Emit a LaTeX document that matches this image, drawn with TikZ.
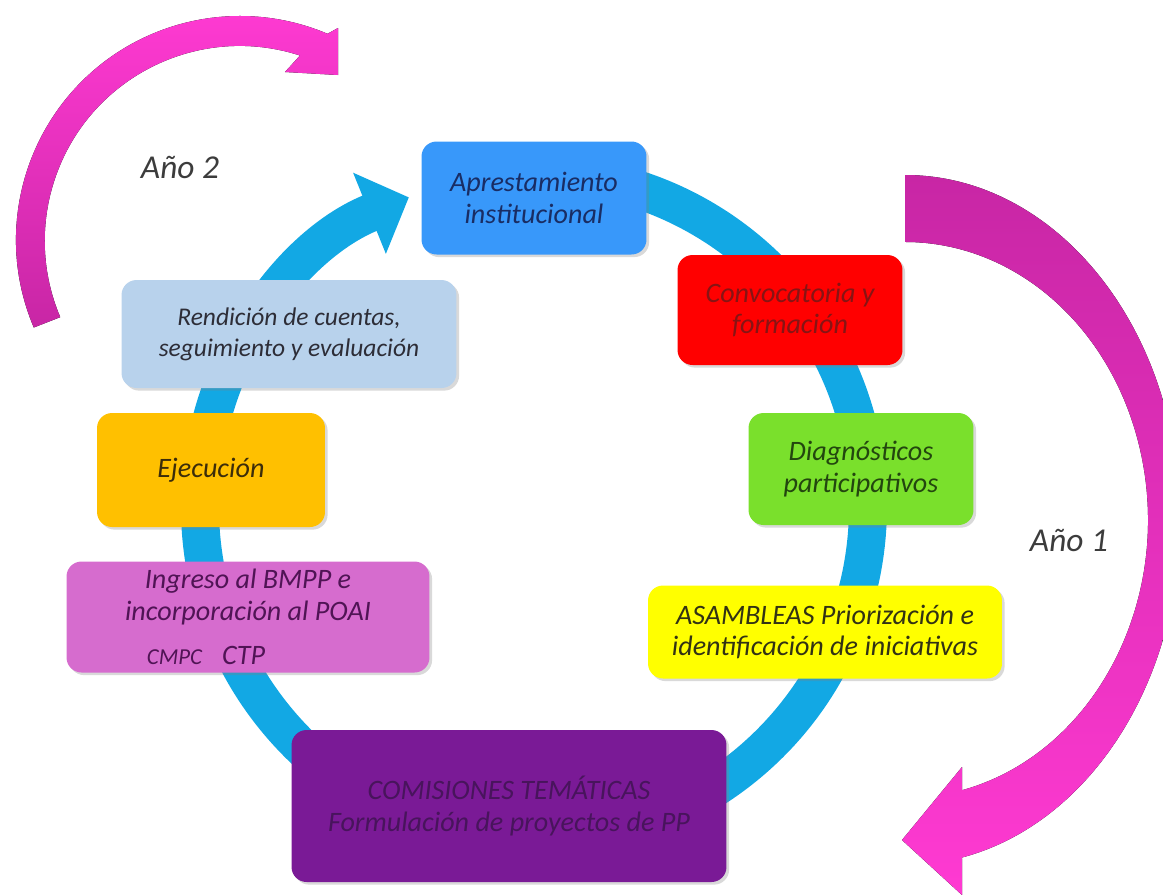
\documentclass[tikz,border=0pt]{standalone}
\usepackage{fontspec}
\setmainfont{Carlito}
\usetikzlibrary{arrows.meta,shadows}

\definecolor{ringC}{RGB}{18,168,228}
\definecolor{magD}{RGB}{200,38,165}
\definecolor{magL}{RGB}{255,58,210}
\definecolor{aprC}{RGB}{56,152,250}
\definecolor{aprT}{RGB}{25,45,100}
\definecolor{convC}{RGB}{255,0,0}
\definecolor{convT}{RGB}{135,20,20}
\definecolor{diagC}{RGB}{122,224,44}
\definecolor{diagT}{RGB}{35,70,15}
\definecolor{asamC}{RGB}{255,255,0}
\definecolor{asamT}{RGB}{50,50,20}
\definecolor{comiC}{RGB}{122,26,150}
\definecolor{comiT}{RGB}{72,20,92}
\definecolor{ingrC}{RGB}{214,108,206}
\definecolor{ingrT}{RGB}{80,20,85}
\definecolor{ejecC}{RGB}{255,192,0}
\definecolor{ejecT}{RGB}{60,45,10}
\definecolor{rendC}{RGB}{184,210,236}
\definecolor{rendT}{RGB}{45,45,55}
\definecolor{yearT}{RGB}{60,60,60}

\begin{document}
\begin{tikzpicture}[x=0.02cm,y=-0.02cm,
    stage/.style={rounded corners=0.3cm, align=center, inner sep=2pt,
      font=\fontsize{16}{18}\selectfont\itshape,
      drop shadow={opacity=0.3, shadow xshift=1.5pt, shadow yshift=-1.5pt}},
    year/.style={font=\fontsize{19}{22}\selectfont\itshape, text=yearT},
    ring/.style={draw=ringC, line width=0.76cm, -{Triangle[width=1.7cm, length=0.85cm]}}]
  \clip (0,0) rectangle (1163,894);

  % year arrows
  \fill[bottom color=magD, top color=magL] (33.8,327.5) arc[start angle=157, end angle=293, radius=224]
    -- (338,28) -- (338,75) -- (285,72) -- (300,55.5) arc[start angle=288, end angle=157, radius=195] -- cycle;
  \fill[top color=magD, bottom color=magL] (905,175) arc[start angle=-90, end angle=78.04, x radius=275, y radius=345]
    -- (962,895) -- (902,840) -- (962,767) -- (962,790.2) arc[start angle=76.43, end angle=-90, x radius=243, y radius=278] -- cycle;
  \node[year] (y2) at (180,167) {Año 2};
  \node[year] (y1) at (1069,540) {Año 1};

  % cycle
  \coordinate (c) at (534,507);
  \draw[ring] (563.1,174.3) arc[start angle=-85, end angle=248, radius=334];

  % stages
  \node[stage, fill=aprC, text=aprT, minimum width=4.5cm, minimum height=2.26cm] (apr) at (534,198) {Aprestamiento\\institucional};
  \node[stage, fill=convC, text=convT, minimum width=4.5cm, minimum height=2.2cm] (conv) at (790,310) {Convocatoria y\\formación};
  \node[stage, fill=diagC, text=diagT, minimum width=4.5cm, minimum height=2.24cm] (diag) at (861,469) {Diagnósticos\\participativos};
  \node[stage, fill=asamC, text=asamT, minimum width=7.08cm, minimum height=1.86cm] (asam) at (825,632) {ASAMBLEAS Priorización e\\identificación de iniciativas};
  \node[stage, fill=comiC, text=comiT, minimum width=8.7cm, minimum height=3.04cm] (comi) at (509,806) {COMISIONES TEMÁTICAS\\Formulación de proyectos de PP};
  \node[stage, fill=ingrC, text=ingrT, minimum width=7.26cm, minimum height=2.22cm] (ingr) at (248,617)
    {Ingreso al BMPP e\\incorporación al POAI\\[7pt]\hspace*{-1.68cm}{\fontsize{13}{15}\selectfont CMPC}\hspace{0.4cm}CTP};
  \node[stage, fill=ejecC, text=ejecT, minimum width=4.56cm, minimum height=2.28cm] (ejec) at (211,470) {Ejecución};
  \node[stage, fill=rendC, text=rendT, minimum width=6.7cm, minimum height=2.16cm,
    font=\fontsize{14.5}{17.5}\selectfont\itshape] (rend) at (289,334) {Rendición de cuentas,\\seguimiento y evaluación};
\end{tikzpicture}
\end{document}
